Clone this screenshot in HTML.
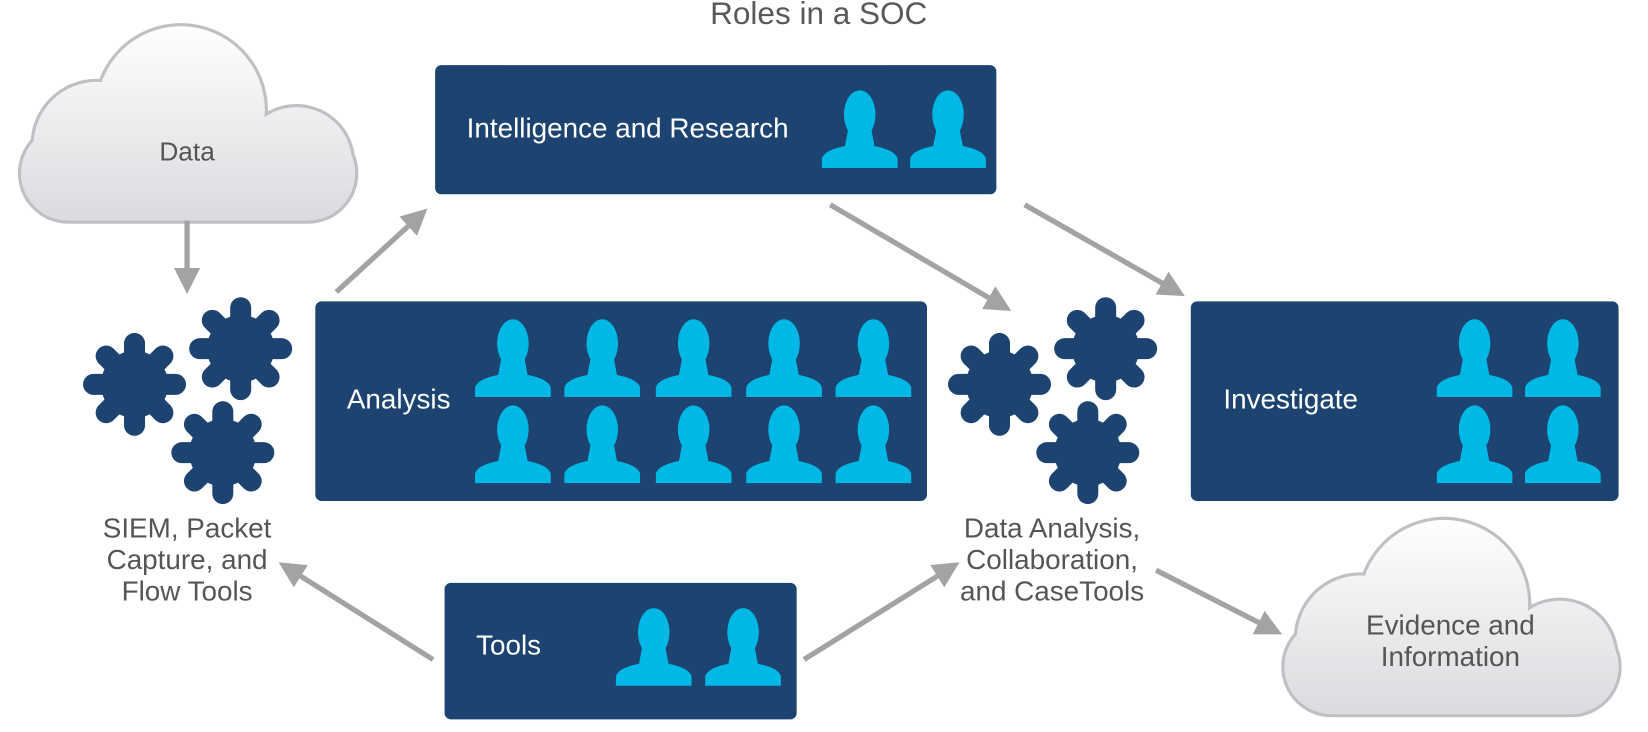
<!DOCTYPE html>
<html><head><meta charset="utf-8"><style>
html,body{margin:0;padding:0;background:#fff;}
svg{display:block}
text{font-family:"Liberation Sans",Arial,sans-serif}
</style></head><body>
<svg width="1648" height="732" viewBox="0 0 1568 697" preserveAspectRatio="none" xmlns="http://www.w3.org/2000/svg">
<defs>
<linearGradient id="cg" gradientUnits="userSpaceOnUse" x1="0" y1="20" x2="0" y2="212">
<stop offset="0" stop-color="#ffffff"/><stop offset="1" stop-color="#dadbde"/>
</linearGradient>
<g id="cloud">
 <g fill="#bfc0c3">
  <rect x="17" y="117" width="324" height="96" rx="48"/>
  <circle cx="172" cy="105" r="83"/>
  <circle cx="92" cy="138" r="63"/>
  <circle cx="282" cy="155" r="56"/>
 </g>
 <g fill="url(#cg)">
  <rect x="20" y="120" width="318" height="90" rx="45"/>
  <circle cx="172" cy="105" r="80"/>
  <circle cx="92" cy="138" r="60"/>
  <circle cx="282" cy="155" r="53"/>
 </g>
</g>
<g id="p" fill="#00b8e6">
 <ellipse cx="0" cy="22" rx="15" ry="23"/>
 <path d="M-11,36 L11,36 L14,52 Q34,56 36,64 L36,73 L-36,73 L-36,64 Q-34,56 -14,52 Z"/>
</g>
<g id="gear" stroke="#1d4370" stroke-width="20" stroke-linecap="round">
 <circle r="32" fill="#1d4370" stroke="none"/>
 <line x1="0" y1="0" x2="0" y2="-39"/><line x1="0" y1="0" x2="0" y2="39"/>
 <line x1="0" y1="0" x2="39" y2="0"/><line x1="0" y1="0" x2="-39" y2="0"/>
 <line x1="0" y1="0" x2="27" y2="27"/><line x1="0" y1="0" x2="-27" y2="-27"/>
 <line x1="0" y1="0" x2="27" y2="-27"/><line x1="0" y1="0" x2="-27" y2="27"/>
</g>
<marker id="ah" markerWidth="5" markerHeight="5" refX="1" refY="2.5" orient="auto" markerUnits="strokeWidth">
 <path d="M0,0 L5,2.5 L0,5 Z" fill="#a3a3a3"/>
</marker>
</defs>

<text x="779" y="23" font-size="30" fill="#595959" text-anchor="middle">Roles in a SOC</text>

<use href="#cloud"/>
<text x="178" y="153" font-size="25" fill="#555" text-anchor="middle">Data</text>

<use href="#cloud" transform="translate(1202,470)"/>
<text x="1380" y="604" font-size="26.5" fill="#555" text-anchor="middle">Evidence and</text>
<text x="1380" y="634" font-size="26.5" fill="#555" text-anchor="middle">Information</text>

<g stroke="#a3a3a3" stroke-width="5" marker-end="url(#ah)" fill="none">
 <line x1="178" y1="210" x2="178" y2="260"/>
 <line x1="320" y1="278" x2="392" y2="212"/>
 <line x1="790" y1="195" x2="945" y2="286"/>
 <line x1="975" y1="195" x2="1110" y2="272"/>
 <line x1="412" y1="628" x2="282" y2="546"/>
 <line x1="765" y1="628" x2="896" y2="546"/>
 <line x1="1100" y1="543" x2="1202" y2="595"/>
</g>

<rect x="414" y="62" width="534" height="123" rx="6" fill="#1d4370"/>
<text x="444" y="131" font-size="26.5" fill="#fff">Intelligence and Research</text>
<use href="#p" x="818" y="87"/><use href="#p" x="902" y="87"/>

<rect x="300" y="287" width="582" height="190" rx="6" fill="#1d4370"/>
<text x="330" y="389" font-size="26.5" fill="#fff">Analysis</text>
<use href="#p" x="488" y="305"/><use href="#p" x="573" y="305"/><use href="#p" x="660" y="305"/><use href="#p" x="746" y="305"/><use href="#p" x="831" y="305"/>
<use href="#p" x="488" y="387"/><use href="#p" x="573" y="387"/><use href="#p" x="660" y="387"/><use href="#p" x="746" y="387"/><use href="#p" x="831" y="387"/>

<rect x="1133" y="287" width="407" height="190" rx="6" fill="#1d4370"/>
<text x="1164" y="389" font-size="26.5" fill="#fff">Investigate</text>
<use href="#p" x="1403" y="305"/><use href="#p" x="1487" y="305"/>
<use href="#p" x="1403" y="387"/><use href="#p" x="1487" y="387"/>

<rect x="423" y="555" width="335" height="130" rx="6" fill="#1d4370"/>
<text x="453" y="623" font-size="26.5" fill="#fff">Tools</text>
<use href="#p" x="622" y="580"/><use href="#p" x="707" y="580"/>

<use href="#gear" transform="translate(128,366)"/>
<use href="#gear" transform="translate(229,332)"/>
<use href="#gear" transform="translate(212,431)"/>
<use href="#gear" transform="translate(951,366)"/>
<use href="#gear" transform="translate(1052,332)"/>
<use href="#gear" transform="translate(1035,431)"/>

<g font-size="26.5" fill="#555" text-anchor="middle">
<text x="178" y="512">SIEM, Packet</text>
<text x="178" y="542">Capture, and</text>
<text x="178" y="572">Flow Tools</text>
<text x="1001" y="512">Data Analysis,</text>
<text x="1001" y="542">Collaboration,</text>
<text x="1001" y="572">and CaseTools</text>
</g>
</svg>
</body></html>
